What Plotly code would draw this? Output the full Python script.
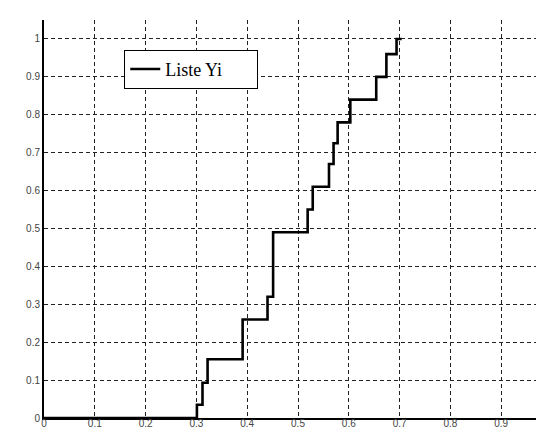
import plotly.graph_objects as go

# Step points (empirical distribution "Liste Yi")
x_vals = [0, 0.301, 0.312, 0.322, 0.391, 0.440, 0.451, 0.519, 0.529,
          0.561, 0.570, 0.578, 0.603, 0.654, 0.674, 0.694, 0.704]
y_vals = [0, 0.035, 0.093, 0.155, 0.26, 0.32, 0.49, 0.55, 0.61,
          0.67, 0.725, 0.78, 0.84, 0.90, 0.96, 1.0, 1.0]

x_ticks = [0, 0.1, 0.2, 0.3, 0.4, 0.5, 0.6, 0.7, 0.8, 0.9]
x_tick_labels = ["0", "0.1", "0.2", "0.3", "0.4", "0.5", "0.6", "0.7", "0.8", "0.9"]
y_ticks = [0, 0.1, 0.2, 0.3, 0.4, 0.5, 0.6, 0.7, 0.8, 0.9, 1.0]
y_tick_labels = ["0", "0.1", "0.2", "0.3", "0.4", "0.5", "0.6", "0.7", "0.8", "0.9", "1"]

fig = go.Figure()
fig.add_trace(go.Scatter(
    x=x_vals, y=y_vals, mode="lines", line_shape="hv",
    line=dict(color="black", width=2.6), name="Liste Yi",
))

fig.update_layout(
    width=544, height=428,
    margin=dict(l=36, r=0, t=12, b=18),
    paper_bgcolor="white", plot_bgcolor="white",
    showlegend=True,
    legend=dict(
        x=0.158, y=0.925, xanchor="left", yanchor="top",
        orientation="h", entrywidth=87, entrywidthmode="pixels",
        bgcolor="white", bordercolor="black", borderwidth=1,
        font=dict(family="Liberation Serif, Times New Roman, serif", size=18, color="black"),
        itemwidth=30, tracegroupgap=0,
    ),
    font=dict(family="Liberation Sans", size=10, color="#444"),
)
fig.update_xaxes(
    range=[0, 1.0], tickvals=x_ticks, ticktext=x_tick_labels,
    showgrid=True, gridcolor="#222", griddash="4px,3px", gridwidth=1,
    showline=True, linecolor="black", linewidth=2,
    zeroline=False, ticks="", fixedrange=True, ticklabelstandoff=-5,
)
fig.update_yaxes(
    range=[0, 1.05], tickvals=y_ticks, ticktext=y_tick_labels,
    showgrid=True, gridcolor="#222", griddash="4px,3px", gridwidth=1,
    showline=True, linecolor="black", linewidth=2,
    zeroline=False, ticks="", fixedrange=True,
)

fig.write_html("out.html")
